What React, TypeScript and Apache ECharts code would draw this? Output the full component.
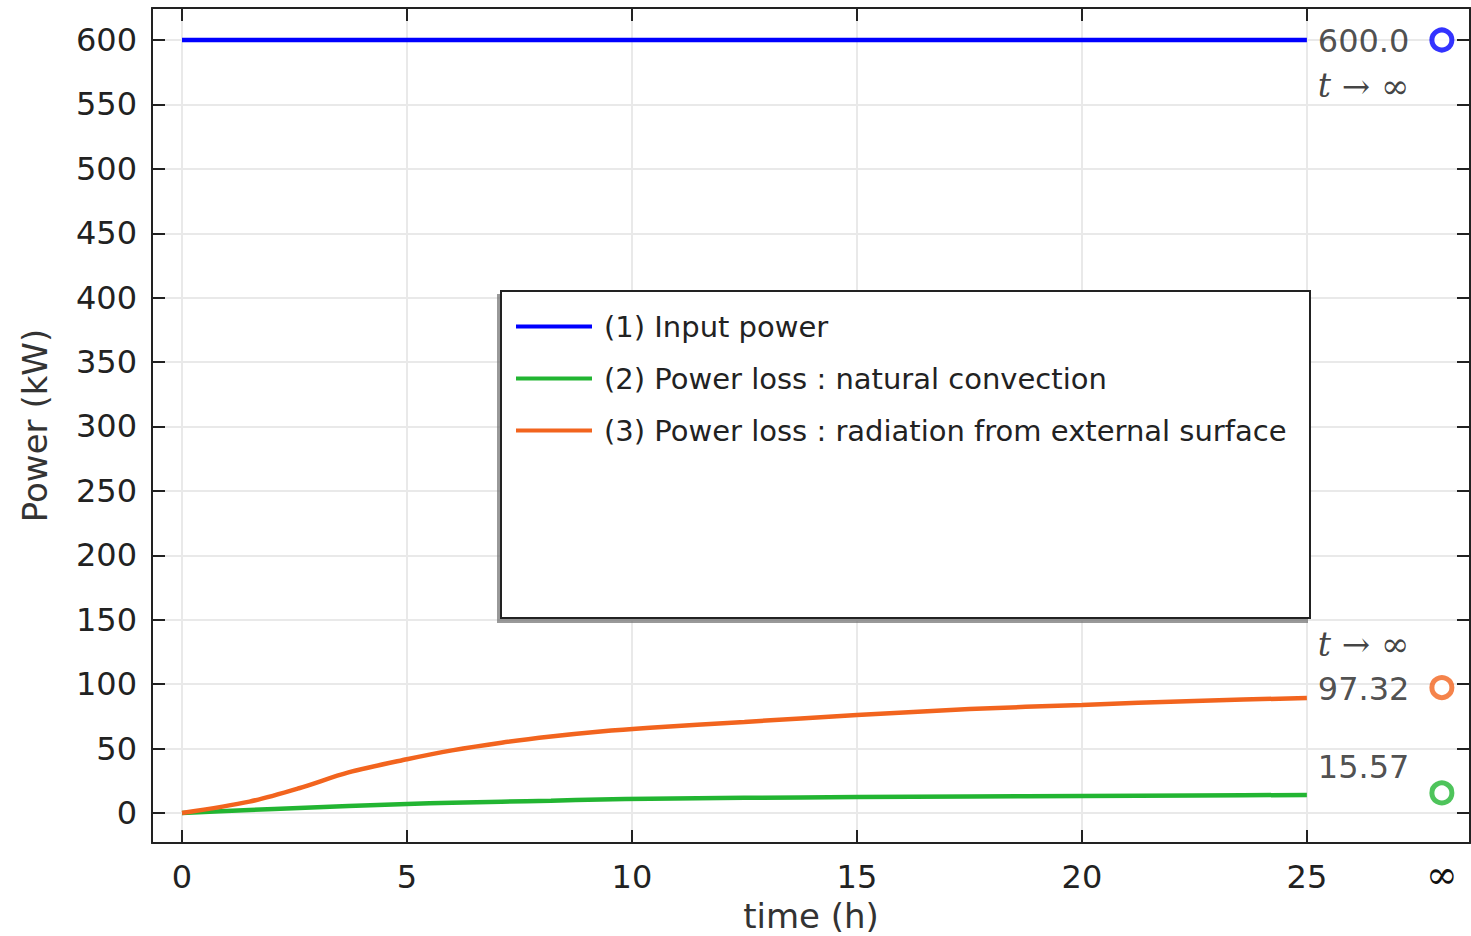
import React, { useEffect, useRef } from "react";
import * as echarts from "echarts";

// ---- data ----
const xTicks = [0, 5, 10, 15, 20, 25];
const xLabelValues = [0, 5, 10, 15, 20, 25, 28];
const yTicks = [0, 50, 100, 150, 200, 250, 300, 350, 400, 450, 500, 550, 600];
const INF_X = 28;

const timeInput = [0, 25];
const inputPower = [600, 600];

const timeLoss = [0, 1.5, 2.6, 3.7, 5, 6, 7.1, 8.2, 9.3, 10.4, 12.5, 15, 17.5, 20, 22.5, 25];
const convection = [0, 2.3, 3.9, 5.4, 7, 8, 8.8, 9.6, 10.4, 11.1, 11.8, 12.4, 12.9, 13.2, 13.6, 14];
const radiation = [0, 8.8, 19.2, 31.5, 41.7, 48.6, 54.6, 59.4, 63.3, 66.2, 70.7, 76, 80.7, 83.9, 87, 89.3];

const steadyInput = 600.0;
const steadyRadiation = 97.32;
const steadyConvection = 15.57;

const seriesNames = [
  "(1) Input power",
  "(2) Power loss : natural convection",
  "(3) Power loss : radiation from external surface",
];
const colors = ["#0000ff", "#22b532", "#f2641e"];

const FONT = "DejaVu Sans";

function zip(xs: number[], ys: number[]) {
  return xs.map((x, i) => [x, ys[i]]);
}

export default function App() {
  const ref = useRef<HTMLDivElement>(null);
  useEffect(() => {
    if (!ref.current) return;
    const chart = echarts.init(ref.current, null, { renderer: "svg" });
    const axisLineStyle = { color: "#222", width: 2 };
    const tickStyle = { color: "#222", width: 2 };
    const richInf = {
      v: { fontSize: 32, fontFamily: FONT, color: "#222", lineHeight: 45 },
      ti: { fontSize: 33, fontFamily: "DejaVu Serif", fontStyle: "italic", color: "#111", lineHeight: 45 },
      ta: { fontSize: 34, fontFamily: "DejaVu Serif", color: "#111", lineHeight: 45 },
    };
    const option: any = {
      animation: false,
      backgroundColor: "#fff",
      grid: { left: 152, width: 1318, top: 8, height: 835, outerBoundsMode: "none", containLabel: false },
      xAxis: [
        {
          type: "value",
          min: -0.667,
          max: 28.625,
          position: "bottom",
          name: "time (h)",
          nameLocation: "middle",
          nameGap: 51,
          nameTextStyle: { fontSize: 34, fontFamily: FONT, color: "#333" },
          axisLine: { show: true, onZero: false, lineStyle: axisLineStyle },
          axisTick: { show: true, inside: true, length: 13, lineStyle: tickStyle, customValues: xTicks },
          axisLabel: {
            show: true,
            customValues: xLabelValues,
            margin: 18,
            fontSize: 32,
            fontFamily: FONT,
            color: "#222",
            formatter: (v: number) => (v === INF_X ? "{inf|∞}" : String(v)),
            rich: { inf: { fontSize: 38, lineHeight: 28, fontFamily: "DejaVu Serif", color: "#111" } },
          },
          splitLine: { show: true, lineStyle: { color: "#e9e9e9", width: 2 } },
        },
        {
          type: "value",
          min: -0.667,
          max: 28.625,
          position: "top",
          axisLine: { show: true, onZero: false, lineStyle: axisLineStyle },
          axisTick: { show: true, inside: true, length: 13, lineStyle: tickStyle, customValues: xTicks },
          axisLabel: { show: false },
          splitLine: { show: false },
        },
      ],
      yAxis: [
        {
          type: "value",
          min: -23.29,
          max: 624.84,
          position: "left",
          name: "Power (kW)",
          nameLocation: "middle",
          nameGap: 100,
          nameTextStyle: { fontSize: 34, fontFamily: FONT, color: "#333" },
          axisLine: { show: true, onZero: false, lineStyle: axisLineStyle },
          axisTick: { show: true, inside: true, length: 13, lineStyle: tickStyle, customValues: yTicks },
          axisLabel: {
            show: true,
            customValues: yTicks,
            margin: 15,
            fontSize: 32,
            fontFamily: FONT,
            color: "#222",
          },
          splitLine: { show: true, lineStyle: { color: "#e9e9e9", width: 2 } },
        },
        {
          type: "value",
          min: -23.29,
          max: 624.84,
          position: "right",
          axisLine: { show: true, onZero: false, lineStyle: axisLineStyle },
          axisTick: { show: true, inside: true, length: 13, lineStyle: tickStyle, customValues: yTicks },
          axisLabel: { show: false },
          splitLine: { show: false },
        },
      ],
      legend: {
        data: seriesNames,
        orient: "vertical",
        left: 516,
        top: 312,
        padding: 0,
        itemGap: 23,
        itemWidth: 76,
        itemHeight: 4,
        icon: "rect",
        z: 10,
        textStyle: { fontSize: 29, fontFamily: FONT, color: "#222", padding: [0, 0, 0, 7] },
      },
      graphic: [
        {
          type: "rect",
          z: 5,
          shape: { x: 501, y: 291, width: 809, height: 327 },
          style: {
            fill: "#fff",
            stroke: "#222",
            lineWidth: 2,
            shadowColor: "rgba(110,110,110,0.7)",
            shadowBlur: 1,
            shadowOffsetX: -3,
            shadowOffsetY: 4,
          },
        },
      ],
      series: [
        {
          name: seriesNames[0],
          type: "line",
          data: zip(timeInput, inputPower),
          showSymbol: false,
          symbol: "none",
          lineStyle: { color: colors[0], width: 4.5 },
          itemStyle: { color: colors[0] },
        },
        {
          name: seriesNames[1],
          type: "line",
          data: zip(timeLoss, convection),
          smooth: 0.3,
          showSymbol: false,
          symbol: "none",
          lineStyle: { color: colors[1], width: 4.5 },
          itemStyle: { color: colors[1] },
        },
        {
          name: seriesNames[2],
          type: "line",
          data: zip(timeLoss, radiation),
          smooth: 0.3,
          showSymbol: false,
          symbol: "none",
          lineStyle: { color: colors[2], width: 4.5 },
          itemStyle: { color: colors[2] },
        },
        {
          name: "steady-input",
          type: "scatter",
          data: [[INF_X, steadyInput]],
          symbol: "circle",
          symbolSize: 20,
          itemStyle: { color: "#fff", borderColor: colors[0], borderWidth: 5 },
          label: {
            show: true,
            position: "left",
            distance: 20,
            offset: [0, 23],
            formatter: () => `{v|${steadyInput.toFixed(1)}}\n{ti|t}{ta| → ∞}`,
            rich: richInf,
          },
        },
        {
          name: "steady-radiation",
          type: "scatter",
          data: [[INF_X, steadyRadiation]],
          symbol: "circle",
          symbolSize: 20,
          itemStyle: { color: "#fff", borderColor: colors[2], borderWidth: 5 },
          label: {
            show: true,
            position: "left",
            distance: 20,
            offset: [0, -21],
            formatter: () => `{ti|t}{ta| → ∞}\n{v|${steadyRadiation.toFixed(2)}}`,
            rich: richInf,
          },
        },
        {
          name: "steady-convection",
          type: "scatter",
          data: [[INF_X, steadyConvection]],
          symbol: "circle",
          symbolSize: 20,
          itemStyle: { color: "#fff", borderColor: colors[1], borderWidth: 5 },
          label: {
            show: true,
            position: "left",
            distance: 20,
            offset: [0, -26],
            formatter: () => `{v|${steadyConvection.toFixed(2)}}`,
            rich: richInf,
          },
        },
      ],
    };
    chart.setOption(option);
    return () => chart.dispose();
  }, []);
  return (
    <div
      ref={ref}
      style={{ position: "fixed", left: 0, top: 0, width: 1471, height: 936, background: "#fff" }}
    />
  );
}
